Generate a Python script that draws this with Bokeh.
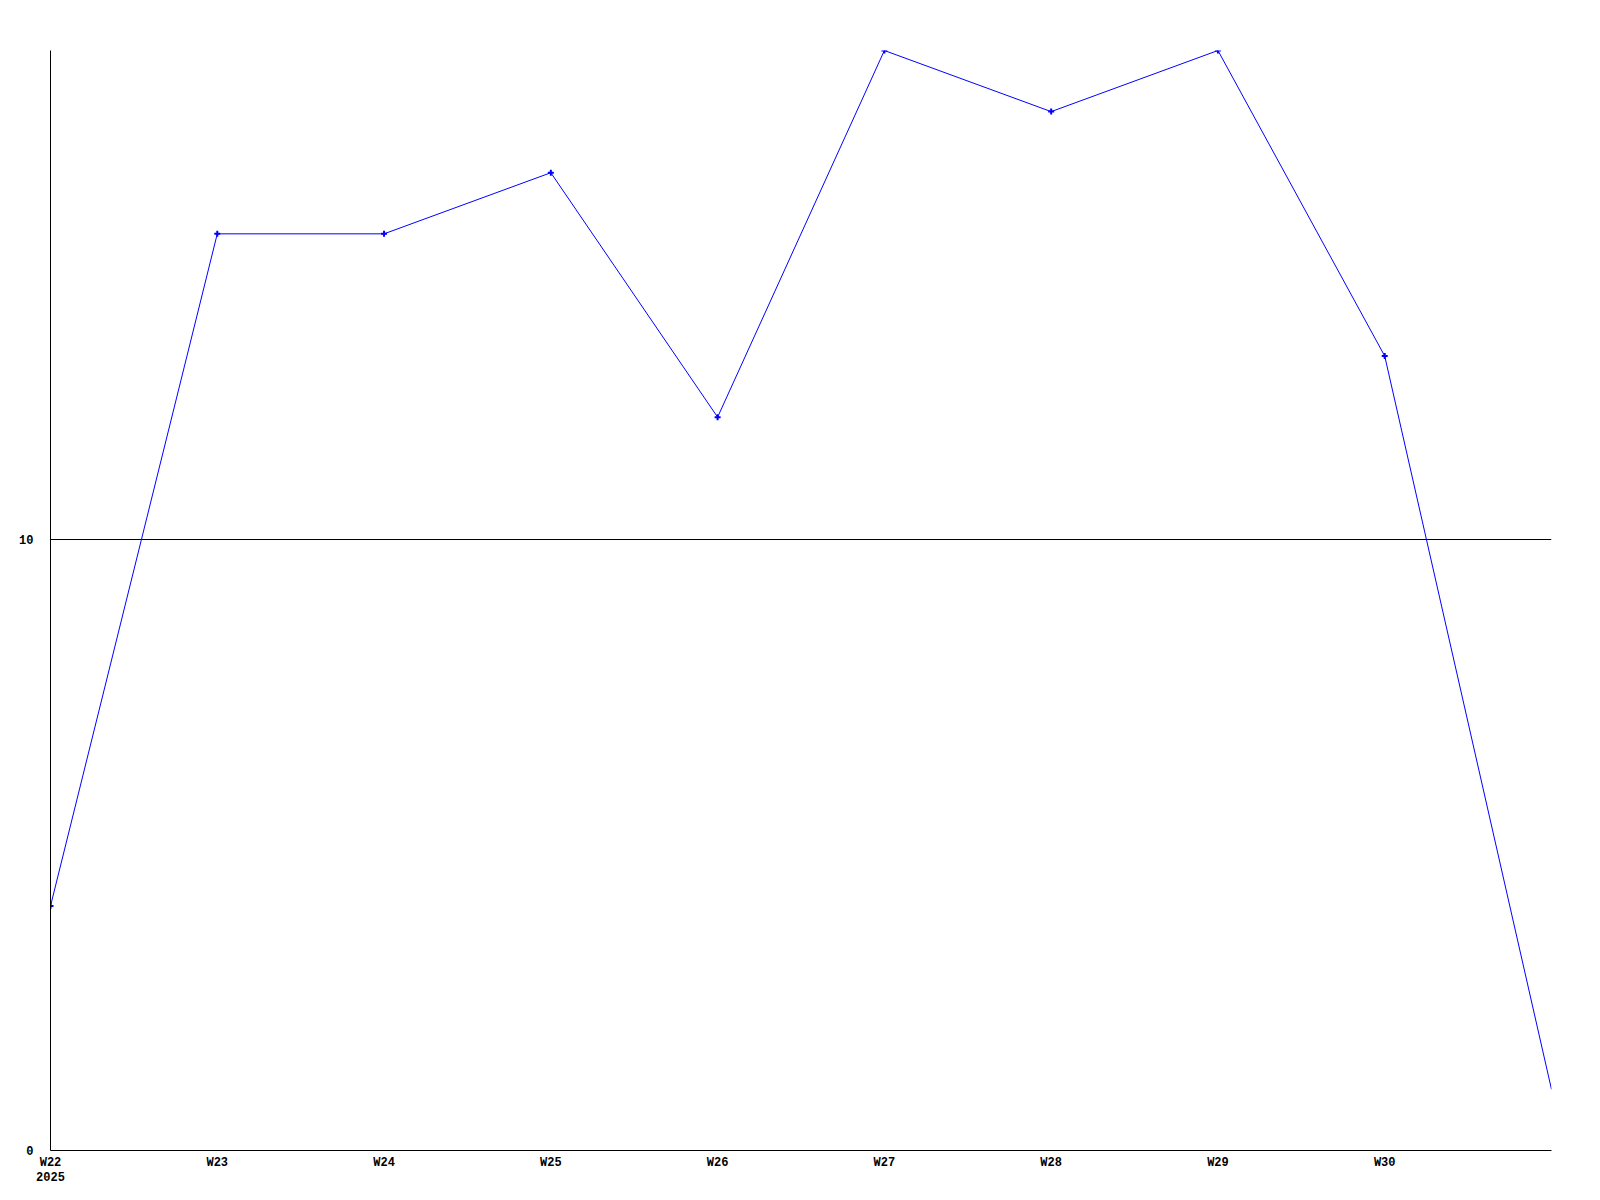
from bokeh.plotting import figure
from bokeh.models import FixedTicker, ColumnDataSource, Range1d
from bokeh.embed import file_html
from bokeh.resources import INLINE

weeks = ["W22", "W23", "W24", "W25", "W26", "W27", "W28", "W29", "W30", "W31"]
year_label = "2025"
values = [4, 15, 15, 16, 12, 18, 17, 18, 13, 1]
y_ticks = [0, 10]
grid_lines = [10]

x = list(range(len(weeks)))
src = ColumnDataSource(dict(x=x, y=values))
marker_src = ColumnDataSource(dict(x=x[:-1], y=values[:-1]))

p = figure(output_backend="svg", toolbar_location=None,
           frame_width=1501, frame_height=1100,
           min_border_left=50, min_border_top=50, min_border_right=40, min_border_bottom=40,
           x_range=Range1d(0, len(weeks) - 1), y_range=Range1d(0, 18))
p.outline_line_color = None
p.background_fill_color = "white"
p.border_fill_color = "white"

p.line("x", "y", source=src, line_color="#0000ff", line_width=1)
p.scatter("x", "y", source=marker_src, marker="cross", size=6, line_color="#0000ff", line_width=2)

labels = {i: w for i, w in enumerate(weeks)}
labels[0] = weeks[0] + "\n" + year_label
p.xaxis.ticker = FixedTicker(ticks=x[:-1])
p.xaxis.major_label_overrides = labels
p.yaxis.ticker = FixedTicker(ticks=y_ticks)

for ax in (p.xaxis[0], p.yaxis[0]):
    ax.axis_line_color = "black"
    ax.axis_line_width = 1
    ax.major_tick_line_color = None
    ax.minor_tick_line_color = None
    ax.major_label_text_font = "Liberation Mono"
    ax.major_label_text_font_style = "bold"
    ax.major_label_text_font_size = "12px"
    ax.major_label_text_color = "black"
p.xaxis.major_label_standoff = -1
p.xaxis.major_label_text_line_height = 1.1
p.yaxis.major_label_standoff = 11

p.xgrid.visible = False
p.ygrid.ticker = FixedTicker(ticks=grid_lines)
p.ygrid.grid_line_color = "black"
p.ygrid.grid_line_alpha = 1.0
p.ygrid.grid_line_width = 1

open("out.html", "w").write(file_html(p, INLINE))
